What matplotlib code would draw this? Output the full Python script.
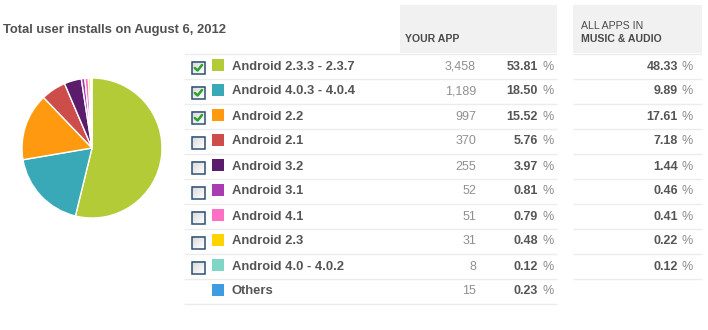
import matplotlib
matplotlib.use("Agg")
import matplotlib.pyplot as plt
import numpy as np
from matplotlib.patches import Rectangle

# ---- data ----
title = "Total user installs on August 6, 2012"
labels = ["Android 2.3.3 - 2.3.7", "Android 4.0.3 - 4.0.4", "Android 2.2", "Android 2.1",
          "Android 3.2", "Android 3.1", "Android 4.1", "Android 2.3", "Android 4.0 - 4.0.2", "Others"]
counts = [3458, 1189, 997, 370, 255, 52, 51, 31, 8, 15]
pct_app = [53.81, 18.50, 15.52, 5.76, 3.97, 0.81, 0.79, 0.48, 0.12, 0.23]
pct_all = [48.33, 9.89, 17.61, 7.18, 1.44, 0.46, 0.41, 0.22, 0.12, None]
checked = [True, True, True, False, False, False, False, False, False, None]
colors = ["#b3cb37", "#39a9b8", "#ff9a10", "#cc4d4a", "#5b1c6c", "#a83cb0",
          "#ff6fc4", "#ffd200", "#7fd6c6", "#3d9de0"]

W, H = 708, 330
fig = plt.figure(figsize=(W / 100, H / 100), dpi=100)
fig.patch.set_facecolor("white")

# overlay axes in pixel coordinates
ax = fig.add_axes([0, 0, 1, 1])
ax.set_xlim(0, W)
ax.set_ylim(H, 0)
ax.axis("off")

FONT = "Liberation Sans"

# title
ax.text(3, 30, title, fontsize=9.4, fontweight="bold", color="#505050",
        family=FONT, va="center", ha="left")

# header boxes
ax.add_patch(Rectangle((400, 5), 157, 48, facecolor="#f1f1f1", edgecolor="none"))
ax.add_patch(Rectangle((573, 5), 129, 48, facecolor="#f1f1f1", edgecolor="none"))
ax.text(405, 39, "YOUR APP", fontsize=7.6, fontweight="bold", color="#4a4a4a",
        family=FONT, va="center", ha="left")
ax.text(581, 26, "ALL APPS IN", fontsize=7.6, color="#4a4a4a",
        family=FONT, va="center", ha="left")
ax.text(581, 39, "MUSIC & AUDIO", fontsize=7.6, fontweight="bold", color="#4a4a4a",
        family=FONT, va="center", ha="left")

# row separators
y0 = 54
step = 25
n = len(labels)
for i in range(n + 1):
    y = y0 + i * step
    ax.plot([184, 557], [y, y], color="#ececec", lw=1, solid_capstyle="butt")
    if i < n:
        ax.plot([573, 702], [y, y], color="#ececec", lw=1, solid_capstyle="butt")

g = np.linspace(0.0, 1.0, 32)
grad = 0.84 + 0.16 * (np.add.outer(g, g) / 2)
for i in range(n):
    yc = y0 + i * step + 12.5
    # checkbox
    if checked[i] is not None:
        ax.imshow(grad, cmap="gray", vmin=0, vmax=1, extent=(192, 204.5, yc + 7, yc - 5),
                  aspect="auto", zorder=2, interpolation="bilinear")
        ax.add_patch(Rectangle((192, yc - 5), 12.5, 12, facecolor="none",
                               edgecolor="#2d4f73", lw=1.1, zorder=3))
        if checked[i]:
            ax.plot([194.8, 197.6, 202.0], [yc + 1.5, yc + 4.0, yc - 1.5],
                    color="#2ea12e", lw=1.8, zorder=4, solid_capstyle="round")
    # colour square
    ax.add_patch(Rectangle((212, yc - 7.5), 12, 12, facecolor=colors[i], edgecolor="none"))
    ax.text(232, yc, labels[i], fontsize=9.4, fontweight="bold", color="#555555",
            family=FONT, va="center", ha="left")
    ax.text(476, yc, f"{counts[i]:,}", fontsize=9, color="#909090",
            family=FONT, va="center", ha="right")
    ax.text(538, yc, f"{pct_app[i]:.2f}", fontsize=9, fontweight="bold", color="#555555",
            family=FONT, va="center", ha="right")
    ax.text(554, yc, "%", fontsize=9, color="#8a8a8a",
            family=FONT, va="center", ha="right")
    if pct_all[i] is not None:
        ax.text(678, yc, f"{pct_all[i]:.2f}", fontsize=9, fontweight="bold", color="#555555",
                family=FONT, va="center", ha="right")
        ax.text(693, yc, "%", fontsize=9, color="#8a8a8a",
                family=FONT, va="center", ha="right")

# pie
cx, cy, r = 92, 148, 70
pax = fig.add_axes([(cx - r) / W, (H - cy - r) / H, 2 * r / W, 2 * r / H])
pax.pie(counts, colors=colors, startangle=90, counterclock=False,
        wedgeprops=dict(edgecolor="white", linewidth=1))
pax.set_xlim(-1, 1)
pax.set_ylim(-1, 1)
pax.axis("off")

fig.savefig("out.png", dpi=100, facecolor="white")
